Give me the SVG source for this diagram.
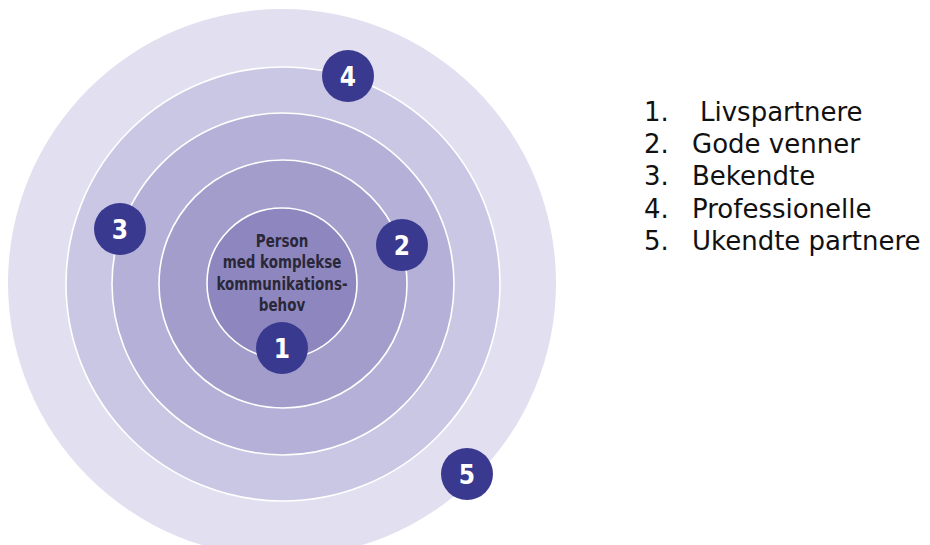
<svg xmlns="http://www.w3.org/2000/svg" width="930" height="545" viewBox="0 0 930 545">
<style>
.ring{stroke:#ffffff;stroke-width:1.6}
.badge{fill:#3a3990}
.num{font-family:"DejaVu Sans Condensed","DejaVu Sans",sans-serif;font-weight:bold;font-size:26px;fill:#ffffff;text-anchor:middle}
.center{font-family:"DejaVu Sans Condensed","DejaVu Sans",sans-serif;font-weight:bold;font-size:17px;fill:#2a2838;text-anchor:middle}
.leg{font-family:"DejaVu Sans",Verdana,sans-serif;font-size:26px;fill:#111111}
</style>
<rect width="930" height="545" fill="#ffffff"/>
<g id="rings">
<circle id="ring5" cx="282" cy="283" r="274" fill="#e2e0f0"/>
<circle id="ring4" class="ring" cx="283" cy="284" r="217" fill="#cac7e4"/>
<circle id="ring3" class="ring" cx="283" cy="284" r="171" fill="#b4b0d7"/>
<circle id="ring2" class="ring" cx="283" cy="284" r="124" fill="#a39dcc"/>
<circle id="ring1" class="ring" cx="282" cy="283" r="75" fill="#8e87bf"/>
</g>
<g id="center-label" transform="translate(282 0) scale(0.88 1) translate(-282 0)">
<text class="center" x="282" y="247">Person</text>
<text class="center" x="282" y="268">med komplekse</text>
<text class="center" x="282" y="290">kommunikations-</text>
<text class="center" x="282" y="311">behov</text>
</g>
<g id="badge1"><circle class="badge" cx="282" cy="348" r="26"/><text class="num" x="282" y="358">1</text></g>
<g id="badge2"><circle class="badge" cx="402" cy="245" r="26"/><text class="num" x="402" y="255">2</text></g>
<g id="badge3"><circle class="badge" cx="120" cy="229" r="26"/><text class="num" x="120" y="239">3</text></g>
<g id="badge4"><circle class="badge" cx="348" cy="76" r="26"/><text class="num" x="348" y="86">4</text></g>
<g id="badge5"><circle class="badge" cx="467" cy="474" r="26"/><text class="num" x="467" y="484">5</text></g>
<g id="legend">
<text class="leg" x="644" y="121">1.</text><text class="leg" x="700" y="121">Livspartnere</text>
<text class="leg" x="644" y="153">2.</text><text class="leg" x="692" y="153">Gode venner</text>
<text class="leg" x="644" y="185">3.</text><text class="leg" x="692" y="185">Bekendte</text>
<text class="leg" x="644" y="218">4.</text><text class="leg" x="692" y="218">Professionelle</text>
<text class="leg" x="644" y="250">5.</text><text class="leg" x="692" y="250">Ukendte partnere</text>
</g>
</svg>
